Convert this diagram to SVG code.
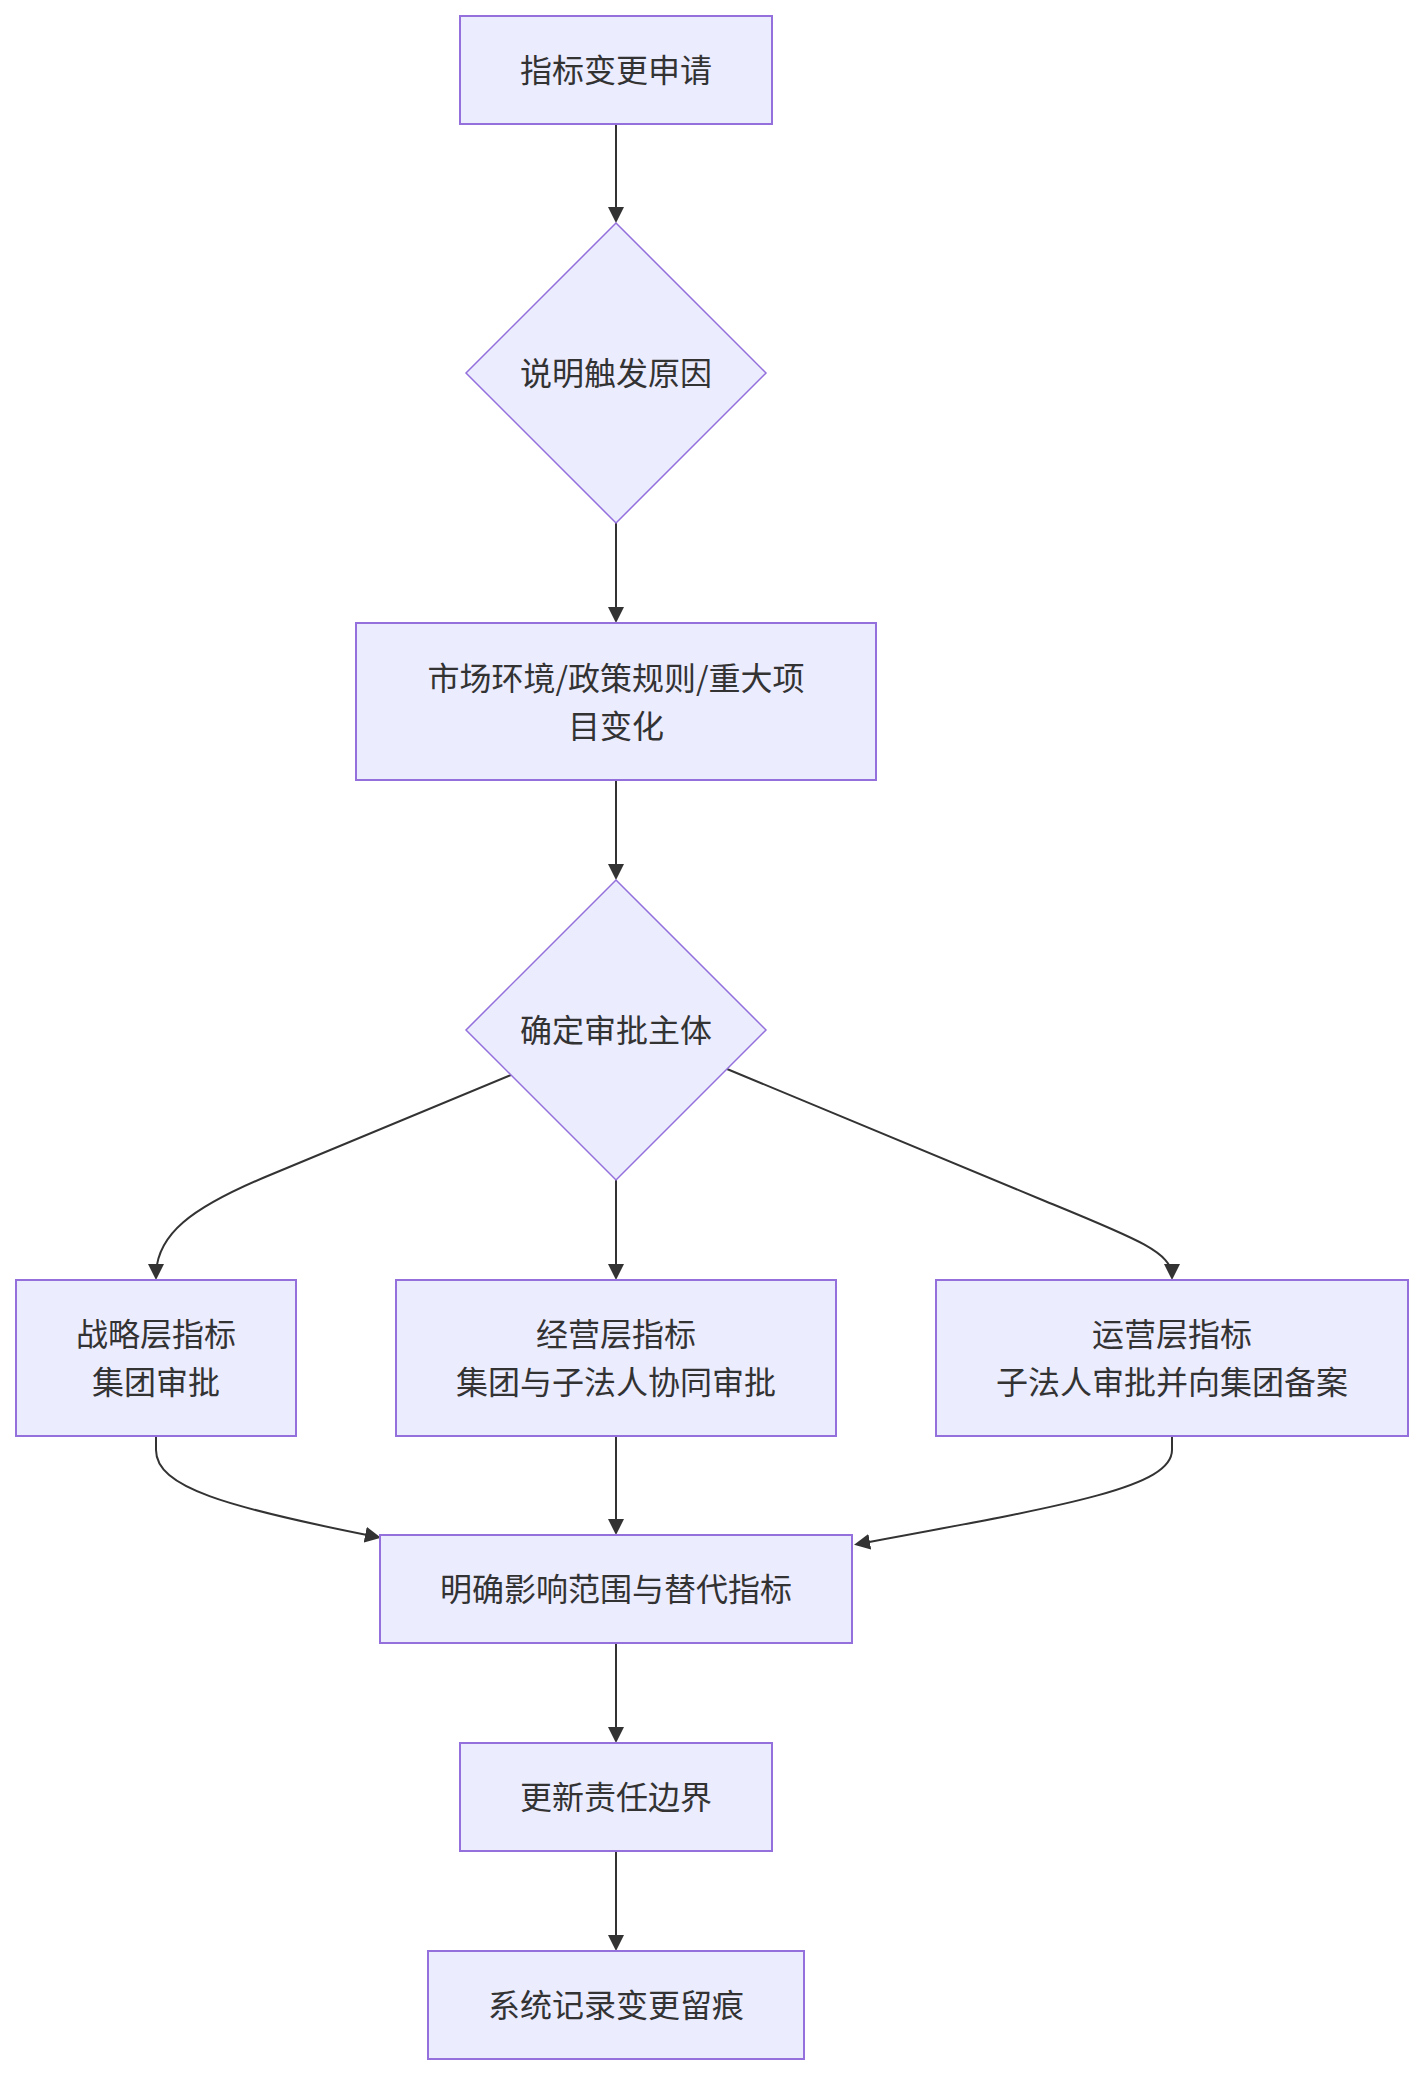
<svg xmlns="http://www.w3.org/2000/svg" width="1424" height="2076" viewBox="0 0 1424 2076">
<style>
.box{fill:#ECECFF;stroke:#9370DB;stroke-width:2}
.dia{fill:#ECECFF;stroke:#9370DB;stroke-width:1.5}
.lbl{font-family:"Noto Sans CJK SC","Noto Sans",sans-serif;font-size:32px;fill:#333333;text-anchor:middle;dominant-baseline:central}
.edge{fill:none;stroke:#333333;stroke-width:2;marker-end:url(#arr)}
</style>
<defs>
<marker id="arr" viewBox="0 0 16 16" refX="12" refY="8" markerWidth="16" markerHeight="16" markerUnits="userSpaceOnUse" orient="auto">
<path d="M0,0 L16,8 L0,16 z" fill="#333333"/>
</marker>
</defs>
<rect width="1424" height="2076" fill="#ffffff"/>
<g id="connectors">
<path class="edge" d="M616,124 L616,219"/>
<path class="edge" d="M616,523 L616,619"/>
<path class="edge" d="M616,780 L616,876"/>
<path class="edge" d="M511,1075 L270,1175 C190,1208 156,1235 156,1276"/>
<path class="edge" d="M616,1180 L616,1276"/>
<path class="edge" d="M727,1069 L1040,1199 C1135,1238 1172,1252 1172,1276"/>
<path class="edge" d="M156,1436 L156,1450 C156,1487 225,1507 377,1537"/>
<path class="edge" d="M616,1436 L616,1531"/>
<path class="edge" d="M1172,1436 L1172,1450 C1172,1487 1070,1505 858,1544"/>
<path class="edge" d="M616,1643 L616,1739"/>
<path class="edge" d="M616,1851 L616,1947"/>
</g>
<g id="n1"><rect class="box" x="460" y="16" width="312" height="108"/><text class="lbl" x="616" y="68">指标变更申请</text></g>
<g id="n2"><polygon class="dia" points="616,223 766,373 616,523 466,373"/><text class="lbl" x="616" y="371">说明触发原因</text></g>
<g id="n3"><rect class="box" x="356" y="623" width="520" height="157"/><text class="lbl" x="616" y="675.5">市场环境/政策规则/重大项</text><text class="lbl" x="616" y="723.5">目变化</text></g>
<g id="n4"><polygon class="dia" points="616,880 766,1030 616,1180 466,1030"/><text class="lbl" x="616" y="1028">确定审批主体</text></g>
<g id="n5"><rect class="box" x="16" y="1280" width="280" height="156"/><text class="lbl" x="156" y="1332">战略层指标</text><text class="lbl" x="156" y="1380">集团审批</text></g>
<g id="n6"><rect class="box" x="396" y="1280" width="440" height="156"/><text class="lbl" x="616" y="1332">经营层指标</text><text class="lbl" x="616" y="1380">集团与子法人协同审批</text></g>
<g id="n7"><rect class="box" x="936" y="1280" width="472" height="156"/><text class="lbl" x="1172" y="1332">运营层指标</text><text class="lbl" x="1172" y="1380">子法人审批并向集团备案</text></g>
<g id="n8"><rect class="box" x="380" y="1535" width="472" height="108"/><text class="lbl" x="616" y="1587">明确影响范围与替代指标</text></g>
<g id="n9"><rect class="box" x="460" y="1743" width="312" height="108"/><text class="lbl" x="616" y="1795">更新责任边界</text></g>
<g id="n10"><rect class="box" x="428" y="1951" width="376" height="108"/><text class="lbl" x="616" y="2003">系统记录变更留痕</text></g>
</svg>
